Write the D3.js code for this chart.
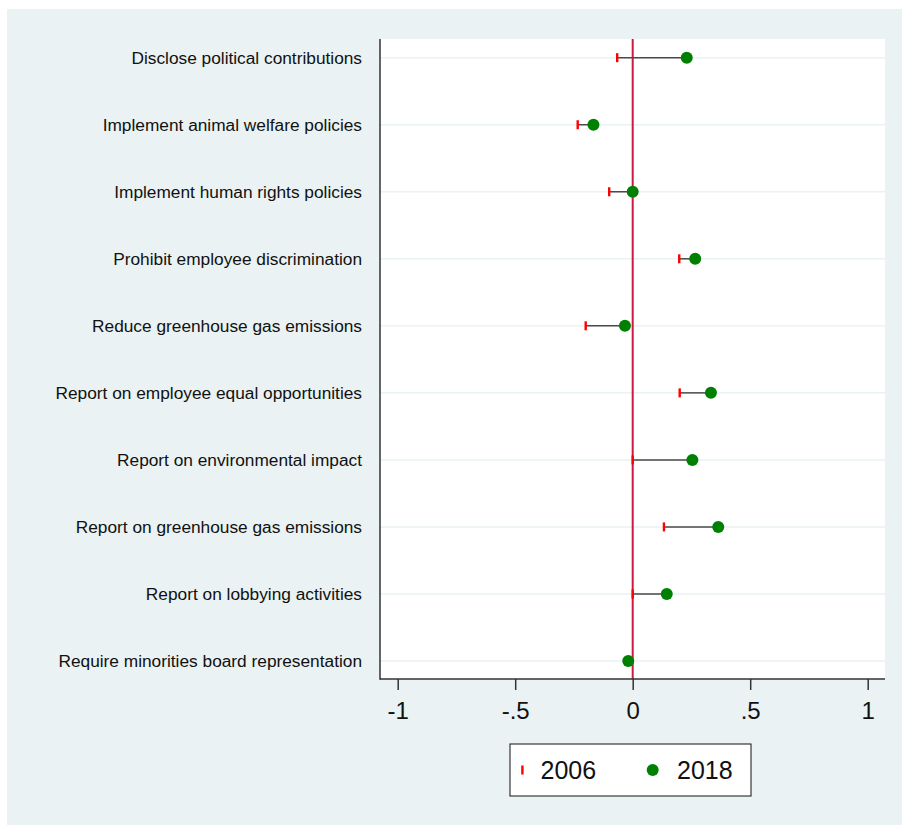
<!DOCTYPE html>
<html>
<head>
<meta charset="utf-8">
<script src="https://cdn.jsdelivr.net/npm/d3@7"></script>
<style>
  html, body { margin: 0; padding: 0; background: #ffffff; }
  svg { display: block; font-family: "Liberation Sans", Arial, sans-serif; }
</style>
</head>
<body>
<div id="chart"></div>
<script>
// Data
const categories = [
    'Disclose political contributions',
    'Implement animal welfare policies',
    'Implement human rights policies',
    'Prohibit employee discrimination',
    'Reduce greenhouse gas emissions',
    'Report on employee equal opportunities',
    'Report on environmental impact',
    'Report on greenhouse gas emissions',
    'Report on lobbying activities',
    'Require minorities board representation'
];
const values2006 = [-0.066, -0.234, -0.10, 0.198, -0.20, 0.20, 0.0, 0.133, 0.0, -0.015];
const values2018 = [0.230, -0.167, 0.0, 0.266, -0.033, 0.333, 0.254, 0.364, 0.145, -0.019];
const xTicks = [-1, -0.5, 0, 0.5, 1];
const legendLabels = ['2006', '2018'];

const W = 902, H = 825;
const plot = { left: 380, right: 885, top: 39, bottom: 679 };

const svg = d3.select('#chart')
    .append('svg')
    .attr('width', W)
    .attr('height', H);

// Outer background
svg.append('rect')
    .attr('x', 7).attr('y', 9)
    .attr('width', W - 7).attr('height', H - 9)
    .attr('fill', '#eaf2f3');

// Plot region
svg.append('rect')
    .attr('x', plot.left).attr('y', plot.top)
    .attr('width', plot.right - plot.left)
    .attr('height', plot.bottom - plot.top)
    .attr('fill', '#ffffff');

// Scales
const x = d3.scaleLinear()
    .domain([-1, 1])
    .range([397.7, 867.7]);

const y = d3.scalePoint()
    .domain(categories)
    .range([57.7, 661]);

// Grid lines
svg.append('g')
    .selectAll('line')
    .data(categories)
    .enter()
    .append('line')
    .attr('x1', plot.left)
    .attr('x2', plot.right)
    .attr('y1', d => y(d))
    .attr('y2', d => y(d))
    .attr('stroke', '#eaf2f3')
    .attr('stroke-width', 1.5);

// Reference line at zero
svg.append('line')
    .attr('x1', x(0)).attr('x2', x(0))
    .attr('y1', plot.top).attr('y2', plot.bottom)
    .attr('stroke', '#cc1a44')
    .attr('stroke-width', 2);

// Connecting lines
svg.append('g')
    .selectAll('line')
    .data(categories)
    .enter()
    .append('line')
    .attr('x1', (d, i) => x(values2006[i]))
    .attr('x2', (d, i) => x(values2018[i]))
    .attr('y1', d => y(d))
    .attr('y2', d => y(d))
    .attr('stroke', '#4a4a4a')
    .attr('stroke-width', 1.5);

// 2006 markers (small vertical bars)
svg.append('g')
    .selectAll('rect')
    .data(categories)
    .enter()
    .append('rect')
    .attr('x', (d, i) => x(values2006[i]) - 1.2)
    .attr('y', d => y(d) - 4.5)
    .attr('width', 2.4)
    .attr('height', 9)
    .attr('fill', '#ff0000');

// 2018 markers
svg.append('g')
    .selectAll('circle')
    .data(categories)
    .enter()
    .append('circle')
    .attr('cx', (d, i) => x(values2018[i]))
    .attr('cy', d => y(d))
    .attr('r', 6)
    .attr('fill', '#008000');

// Y axis line and labels
svg.append('line')
    .attr('x1', plot.left).attr('x2', plot.left)
    .attr('y1', plot.top).attr('y2', plot.bottom + 0.75)
    .attr('stroke', '#333333')
    .attr('stroke-width', 1.5);

svg.append('g')
    .selectAll('text')
    .data(categories)
    .enter()
    .append('text')
    .attr('x', 362)
    .attr('y', d => y(d))
    .attr('dy', '0.35em')
    .attr('text-anchor', 'end')
    .style('font-size', '17.3px')
    .style('fill', '#111111')
    .text(d => d);

// X axis
const xAxis = svg.append('g')
    .attr('transform', `translate(0,${plot.bottom})`)
    .call(d3.axisBottom(x)
        .tickValues(xTicks)
        .tickSize(11)
        .tickPadding(12)
        .tickFormat(d => String(d).replace('0.', '.')));

xAxis.select('.domain')
    .attr('d', `M${plot.left},0H${plot.right}`)
    .attr('stroke', '#333333')
    .attr('stroke-width', 1.5);
xAxis.selectAll('.tick line')
    .attr('stroke', '#333333')
    .attr('stroke-width', 1.5);
xAxis.selectAll('.tick text')
    .style('font-family', '"Liberation Sans", Arial, sans-serif')
    .style('font-size', '24px')
    .style('fill', '#111111');

// Legend
const legend = svg.append('g')
    .attr('transform', 'translate(510,744)');

legend.append('rect')
    .attr('width', 241)
    .attr('height', 52)
    .attr('fill', '#ffffff')
    .attr('stroke', '#111111')
    .attr('stroke-width', 1);

legend.append('rect')
    .attr('x', 11.2)
    .attr('y', 21.5)
    .attr('width', 2.4)
    .attr('height', 9)
    .attr('fill', '#ff0000');

legend.append('circle')
    .attr('cx', 142.7)
    .attr('cy', 26)
    .attr('r', 6)
    .attr('fill', '#008000');

legend.selectAll('text.lab')
    .data(legendLabels)
    .enter()
    .append('text')
    .attr('class', 'lab')
    .attr('x', (d, i) => i === 0 ? 30.5 : 167)
    .attr('y', 35)
    .style('font-size', '25px')
    .style('fill', '#111111')
    .text(d => d);
</script>
</body>
</html>
